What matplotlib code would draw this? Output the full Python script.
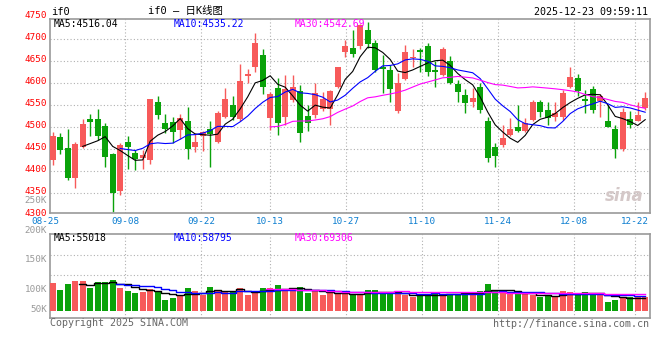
import numpy as np
import pandas as pd
import matplotlib
matplotlib.use('Agg')
import matplotlib.pyplot as plt
from matplotlib.transforms import offset_copy

# daily OHLC (index futures if0)
opens = [4426, 4478, 4453, 4385, 4455, 4519, 4519, 4503, 4439, 4354,
         4467, 4442, 4431, 4426, 4558, 4509, 4512, 4494, 4515, 4456,
         4479, 4496, 4467, 4523, 4551, 4518, 4617, 4638, 4664, 4520,
         4589, 4524, 4562, 4582, 4526, 4528, 4542, 4542, 4592, 4672,
         4681, 4685, 4722, 4692, 4636, 4630, 4537, 4610, 4657, 4676,
         4685, 4630, 4619, 4651, 4598, 4573, 4558, 4592, 4513, 4454,
         4460, 4483, 4501, 4492, 4517, 4558, 4539, 4524, 4524, 4591,
         4611, 4565, 4586, 4560, 4513, 4496, 4451, 4519, 4515, 4543]
closes = [4479, 4449, 4385, 4462, 4507, 4511, 4481, 4432, 4351, 4460,
          4454, 4427, 4436, 4564, 4528, 4496, 4490, 4520, 4450, 4467,
          4488, 4484, 4532, 4564, 4523, 4606, 4620, 4691, 4592, 4576,
          4509, 4587, 4592, 4486, 4509, 4577, 4564, 4582, 4636, 4685,
          4667, 4732, 4689, 4630, 4632, 4587, 4600, 4672, 4660, 4672,
          4626, 4626, 4678, 4600, 4581, 4556, 4567, 4539, 4430, 4435,
          4475, 4496, 4492, 4509, 4558, 4535, 4520, 4533, 4577, 4615,
          4583, 4560, 4539, 4572, 4501, 4451, 4535, 4505, 4528, 4567]
highs = [4488, 4486, 4496, 4467, 4518, 4530, 4542, 4509, 4441, 4464,
         4479, 4448, 4448, 4565, 4570, 4530, 4523, 4530, 4546, 4486,
         4492, 4515, 4536, 4589, 4570, 4643, 4632, 4715, 4677, 4580,
         4611, 4619, 4619, 4596, 4551, 4601, 4581, 4584, 4637, 4698,
         4720, 4735, 4740, 4698, 4664, 4642, 4623, 4687, 4678, 4679,
         4692, 4650, 4683, 4663, 4608, 4586, 4589, 4601, 4524, 4464,
         4505, 4520, 4551, 4520, 4562, 4562, 4558, 4558, 4585, 4636,
         4620, 4585, 4594, 4576, 4551, 4505, 4543, 4536, 4558, 4581]
lows = [4414, 4439, 4380, 4361, 4452, 4481, 4470, 4410, 4308, 4346,
        4404, 4403, 4406, 4416, 4518, 4486, 4464, 4473, 4427, 4444,
        4445, 4410, 4464, 4520, 4517, 4515, 4601, 4626, 4576, 4494,
        4483, 4505, 4557, 4467, 4492, 4521, 4536, 4505, 4590, 4660,
        4659, 4678, 4680, 4626, 4577, 4558, 4533, 4607, 4638, 4626,
        4617, 4592, 4617, 4598, 4558, 4532, 4545, 4532, 4422, 4410,
        4456, 4479, 4488, 4490, 4513, 4524, 4505, 4513, 4517, 4590,
        4572, 4533, 4532, 4524, 4500, 4431, 4445, 4498, 4514, 4539]
volumes = [115500, 85700, 111400, 122400, 122400, 95100, 119500, 119500, 126500, 95100,
           82800, 74700, 78700, 89800, 81600, 44900, 54300, 61200, 95100, 82800,
           65300, 97900, 85700, 81600, 78700, 95100, 65300, 76300, 95100, 95100,
           106100, 81600, 85700, 97900, 74700, 81600, 65300, 72200, 69400, 69400,
           69400, 69400, 85700, 85700, 69400, 69400, 76300, 65300, 55900, 65300,
           65300, 77500, 69400, 69400, 69400, 77500, 77500, 81600, 110200, 81600,
           81600, 72200, 72200, 69400, 65300, 55900, 61200, 62400, 81600, 78700,
           68100, 77500, 65300, 74700, 37900, 44900, 57100, 55900, 61200, 55900]

price_ticks = [4300, 4350, 4400, 4450, 4500, 4550, 4600, 4650, 4700, 4750]
date_labels = ['08-25', '09-08', '09-22', '10-13', '10-27', '11-10', '11-24', '12-08', '12-22']
date_pos = [-1.0, 9.7, 19.8, 29.0, 39.15, 49.3, 59.4, 69.5, 77.6]
vol_labels = ['250K', '200K', '150K', '100K', '50K']
ma_price_text = ['MA5:4516.04', 'MA10:4535.22', 'MA30:4542.69']
ma_vol_text = ['MA5:55018', 'MA10:58795', 'MA30:69306']

opens, closes = np.array(opens), np.array(closes)
highs, lows, volumes = np.array(highs), np.array(lows), np.array(volumes)
x = np.arange(len(closes))

RED, GREEN = '#f75a5a', '#0aa20a'
colors = np.where(closes >= opens, RED, GREEN)
ma_colors = ['#000000', '#0000ff', '#ff00ff']
ma_lens = [5, 10, 30]
MONO = 'DejaVu Sans Mono'
FS = 7
FS_AX = 6.7   # axis labels, a bit smaller so the stacked ones don't collide
GRID = dict(color='#b0b0b0', lw=0.8, linestyle=(0, (1, 2)), zorder=0)

W, H = 660, 360
fig = plt.figure(figsize=(6.6, 3.6), dpi=100)
fig.patch.set_facecolor('white')


def fx(p):
    return p / W


def fy(p):
    return 1 - p / H


ax = fig.add_axes([fx(50), fy(213), 600 / W, 194 / H])
axv = fig.add_axes([fx(50), fy(318), 600 / W, 84 / H])

# ---- price panel
ax.set_xlim(-0.36, 79.64)
ax.set_ylim(4305, 4746)
for p in price_ticks:
    if 4305 < p < 4746:
        ax.axhline(p, **GRID)
for d in date_pos:
    if 0 < d < 79:
        ax.axvline(d, **GRID)
        axv.axvline(d, **GRID)

ax.vlines(x, lows, highs, colors=colors, lw=1, zorder=2)
body_bottom = np.minimum(opens, closes)
body_h = np.maximum(np.abs(closes - opens), 2)
ax.bar(x, body_h, 0.8, bottom=body_bottom, color=colors, linewidth=0, zorder=3)

s = pd.Series(closes)
for n, c in zip(ma_lens, ma_colors):
    ax.plot(x, s.rolling(n).mean(), color=c, lw=0.8, zorder=4)

# price labels sit ~1.5px above their gridlines in the original
ytr = offset_copy(ax.get_yaxis_transform(), fig=fig, x=0, y=1.3, units='points')
for p in price_ticks:
    ax.text(-0.005, p, str(p), transform=ytr, ha='right', va='center',
            color='#ff0000', family=MONO, fontsize=FS_AX, clip_on=False)
xtr = ax.get_xaxis_transform()
for lab, d in zip(date_labels, date_pos):
    ax.text(d, -0.045, lab, transform=xtr, ha='center', va='center',
            color='#0b7dd0', family=MONO, fontsize=FS_AX, clip_on=False)

for t, c, xp in zip(ma_price_text, ma_colors, [54, 174, 295]):
    fig.text(fx(xp), fy(24), t, color=c, family=MONO, fontsize=FS, va='center')

fig.text(fx(51), fy(12), 'if0', family=MONO, fontsize=7.5, va='center')
fig.text(fx(185), fy(11), 'if0 – 日K线图', family=[MONO, 'Noto Sans CJK SC'],
         fontsize=7.5, ha='center', va='center')
fig.text(fx(648), fy(12), '2025-12-23 09:59:11', family=MONO, fontsize=7.2,
         ha='right', va='center')
ax.text(0.957, 0.09, 'sina', transform=ax.transAxes, color='#d4c8c8',
        fontsize=12, style='italic', fontweight='bold', ha='center', va='center')

# ---- volume panel
px_per_vol = 4080.0
axv.set_xlim(-0.36, 79.64)
axv.set_ylim(-7 * px_per_vol, 77 * px_per_vol)
for yy in (255, 275):
    axv.axhline((311 - yy) * px_per_vol, **GRID)
axv.bar(x, volumes, 0.8, color=colors, linewidth=0, zorder=3)
vs = pd.Series(volumes)
for n, c in zip(ma_lens, ma_colors):
    axv.plot(x, vs.rolling(n).mean(), color=c, lw=1, drawstyle='steps-mid', zorder=4)

for lab, yp in zip(vol_labels, [200.5, 230.5, 260, 290, 310]):
    fig.text(fx(47), fy(yp), lab, color='#999999', family=MONO, fontsize=FS_AX,
             ha='right', va='center')
for t, c, xp in zip(ma_vol_text, ma_colors, [54, 174, 295]):
    fig.text(fx(xp), fy(238), t, color=c, family=MONO, fontsize=FS, va='center')

fig.text(fx(50), fy(323), 'Copyright 2025 SINA.COM', color='#666666',
         family=MONO, fontsize=7.2, va='center')
fig.text(fx(649), fy(324), 'http://finance.sina.com.cn', color='#666666',
         family=MONO, fontsize=7.2, ha='right', va='center')

for a in (ax, axv):
    a.set_xticks([])
    a.set_yticks([])
    for sp in a.spines.values():
        sp.set_color('#9a9a9a')
        sp.set_linewidth(1.2)

fig.savefig('out.png', dpi=100)
